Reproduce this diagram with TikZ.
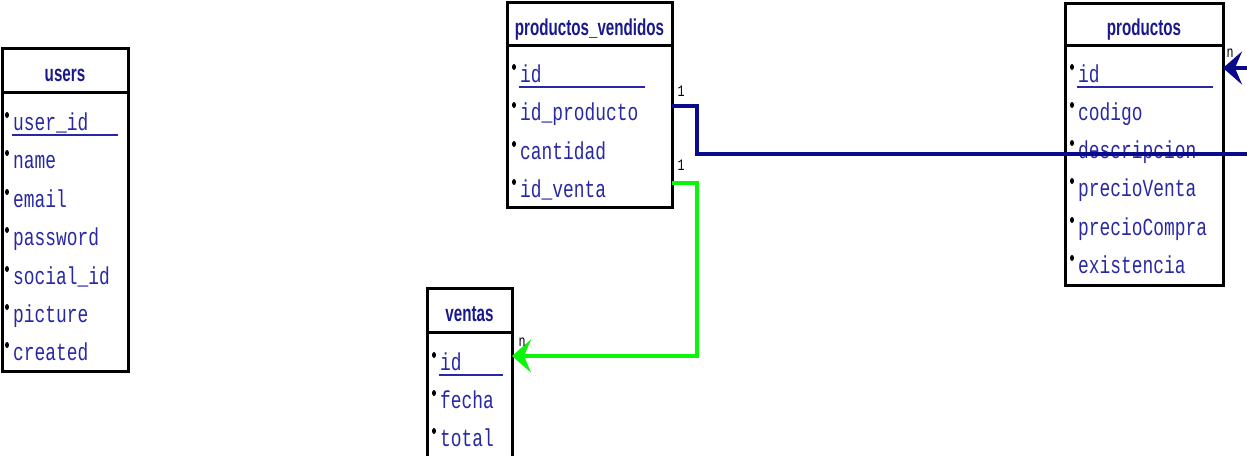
\documentclass[tikz,border=0pt]{standalone}
\usepackage{fontspec}
\setmainfont{Liberation Serif}
\newfontfamily\tabtitlefont[FakeStretch=0.66]{Liberation Sans}
\newfontfamily\tabfieldfont[FakeStretch=0.73]{Liberation Mono}
\usepackage{tikz}
\usetikzlibrary{positioning,arrows.meta,calc}

\definecolor{titleblue}{RGB}{25,25,140}
\definecolor{fieldblue}{RGB}{40,40,165}
\definecolor{linkblue}{RGB}{10,10,140}
\definecolor{linkgreen}{RGB}{10,245,10}

\tikzset{
  tabtitle/.style={draw=black, line width=3pt, anchor=north west, outer sep=0pt,
    inner sep=0pt, text=titleblue, text height=23pt, text depth=0pt,
    font=\tabtitlefont\bfseries\fontsize{23}{23}\selectfont},
  tabbody/.style={draw=black, line width=3pt, anchor=north west, outer sep=0pt,
    inner sep=0pt},
  field/.style={anchor=base west, inner sep=0pt, text=fieldblue,
    font=\tabfieldfont\fontsize{24.5}{24.5}\selectfont},
  card/.style={inner sep=0pt, text=black,
    font=\tabfieldfont\fontsize{16}{16}\selectfont},
  link/.style={line width=4pt},
  crow/.style={-{Stealth[length=19pt,width=33pt,inset=7pt]}},
}

% #1 name, #2 x of text, #3 baseline, #4 text
\newcommand{\erfield}[4]{%
  \node[field] (#1) at (#2,#3) {#4};
  \fill ($(#1.base west)+(-6,-15)$) ellipse (2pt and 3pt);
  \coordinate (#1-r) at ($(#1.base west)+(0,-14)$);
}
% key field: #5 end of underline
\newcommand{\erkey}[5]{%
  \erfield{#1}{#2}{#3}{#4}
  \draw[fieldblue, line width=2pt] ($(#1.base west)+(-1,5)$) -- (#5,#3+5);
}

\begin{document}
\begin{tikzpicture}[x=1pt,y=-1pt]

  \useasboundingbox (0,0) rectangle (1247,455);

  % users
  \node[tabtitle, minimum width=126pt, minimum height=44pt] (users) at (2,48) {users};
  \node[tabbody, minimum width=126pt, minimum height=279pt] (usersb) at (users.south west) {};
  \erkey{u1}{13}{130}{user\_id}{118}
  \erfield{u2}{13}{168}{name}
  \erfield{u3}{13}{207}{email}
  \erfield{u4}{13}{245}{password}
  \erfield{u5}{13}{284}{social\_id}
  \erfield{u6}{13}{322}{picture}
  \erfield{u7}{13}{360}{created}

  % productos_vendidos
  \node[tabtitle, minimum width=165pt, minimum height=43pt] (pv) at (507,2) {productos\_vendidos};
  \node[tabbody, minimum width=165pt, minimum height=162pt] (pvb) at (pv.south west) {};
  \erkey{pv1}{520}{82}{id}{645}
  \erfield{pv2}{520}{120}{id\_producto}
  \erfield{pv3}{520}{159}{cantidad}
  \erfield{pv4}{520}{197}{id\_venta}

  % productos
  \node[tabtitle, minimum width=158pt, minimum height=42pt] (prod) at (1065,3) {productos};
  \node[tabbody, minimum width=158pt, minimum height=240pt] (prodb) at (prod.south west) {};
  \erkey{pr1}{1078}{82}{id}{1213}
  \erfield{pr2}{1078}{120}{codigo}
  \erfield{pr3}{1078}{158}{descripcion}
  \erfield{pr4}{1078}{196}{precioVenta}
  \erfield{pr5}{1078}{235}{precioCompra}
  \erfield{pr6}{1078}{273}{existencia}

  % ventas
  \node[tabtitle, minimum width=85pt, minimum height=44pt] (ventas) at (427,288) {ventas};
  \node[tabbody, minimum width=85pt, minimum height=160pt] (ventasb) at (ventas.south west) {};
  \erkey{v1}{440}{370}{id}{503}
  \erfield{v2}{440}{408}{fecha}
  \erfield{v3}{440}{446}{total}

  % links
  \coordinate (bluebend) at (697,154);
  \coordinate (bluefar) at (1252,154);
  \coordinate (bluenear) at (1252,68);
  \coordinate (greenbend) at (697,300);

  \draw[link, linkblue] (pvb.east |- pv2-r) -| (bluebend) -- (bluefar);
  \draw[link, linkblue, crow] (bluenear) -- (prodb.east |- pr1-r);
  \draw[link, linkgreen, crow] (pvb.east |- pv4-r) -| (greenbend) |- (ventasb.east |- v1-r);

  \node[card] (c1) at (681,91) {1};
  \node[card] (c2) at (681,165) {1};
  \node[card] (c3) at (522,342) {n};
  \node[card] (c4) at (1230,53) {n};

\end{tikzpicture}
\end{document}
